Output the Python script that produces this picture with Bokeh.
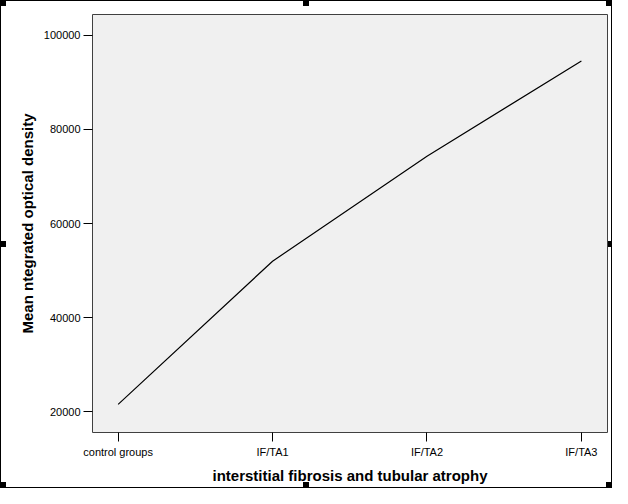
from bokeh.plotting import figure
from bokeh.models import FixedTicker, Range1d, ColumnDataSource
from bokeh.embed import file_html
from bokeh.resources import INLINE

categories = ["control groups", "IF/TA1", "IF/TA2", "IF/TA3"]
mean_iod = [21600, 52000, 74300, 94500]
y_ticks = [20000, 40000, 60000, 80000, 100000]
x_label = "interstitial fibrosis and tubular atrophy"
y_label = "Mean ntegrated optical density"

x_pos = list(range(len(categories)))
src = ColumnDataSource(dict(x=x_pos, y=mean_iod))

W, H = 612, 488
hs = 6
handle_positions = ["left top", "center top", "right top", "left center",
                    "right center", "left bottom", "center bottom", "right bottom"]
bg = ", ".join(f"linear-gradient(#000, #000) {pos} / {hs}px {hs}px no-repeat"
               for pos in handle_positions)

p = figure(width=W, height=H, output_backend="svg", toolbar_location=None,
           x_range=Range1d(-0.166, 3.169), y_range=Range1d(15629, 104393),
           min_border_left=92, min_border_right=5, min_border_top=14,
           min_border_bottom=56,
           styles={"outline": "1px solid black", "outline-offset": "-1px",
                   "background": bg})

p.background_fill_color = "#f0f0f0"
p.border_fill_color = None
p.outline_line_color = "#404040"
p.outline_line_width = 1
p.grid.visible = False

p.line("x", "y", source=src, line_color="black", line_width=1.2)

for ax in (p.xaxis[0], p.yaxis[0]):
    ax.axis_line_color = None
    ax.major_tick_line_color = "black"
    ax.major_tick_out = 9
    ax.major_tick_in = 0
    ax.minor_tick_line_color = None
    ax.major_label_text_font = "Liberation Sans"
    ax.major_label_text_font_size = "11px"
    ax.major_label_text_color = "black"
    ax.axis_label_text_font = "Liberation Sans"
    ax.axis_label_text_font_size = "15px"
    ax.axis_label_text_font_style = "bold"
    ax.axis_label_text_color = "black"

p.xaxis.ticker = FixedTicker(ticks=x_pos)
p.xaxis.major_label_overrides = {i: c for i, c in zip(x_pos, categories)}
p.xaxis.major_label_standoff = 4
p.xaxis.axis_label = x_label
p.xaxis.axis_label_standoff = 6

p.yaxis.ticker = FixedTicker(ticks=y_ticks)
p.yaxis.major_label_overrides = {t: str(t) for t in y_ticks}
p.yaxis.major_label_standoff = 3
p.yaxis.axis_label = y_label
p.yaxis.axis_label_standoff = 5

open("out.html", "w").write(file_html(p, INLINE))
